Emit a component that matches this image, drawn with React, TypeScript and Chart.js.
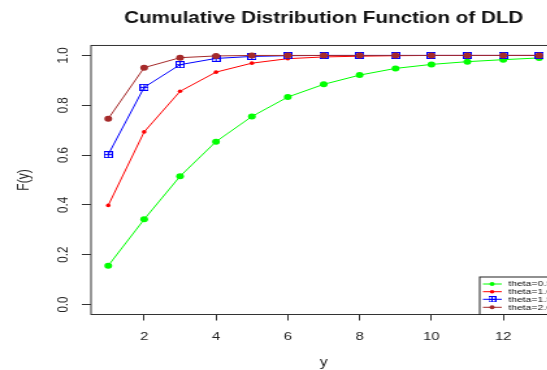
import React, { useEffect, useRef } from "react";
import { Chart, registerables } from "chart.js";

Chart.register(...registerables);

// ---- data ----
const yValues = [1, 2, 3, 4, 5, 6, 7, 8, 9, 10, 11, 12, 13];
const theta05 = [0.156, 0.342, 0.515, 0.654, 0.755, 0.833, 0.884, 0.921, 0.948, 0.964, 0.975, 0.983, 0.99];
const theta10 = [0.398, 0.693, 0.856, 0.933, 0.969, 0.987, 0.994, 0.997, 0.999, 1.0, 1.0, 1.0, 1.0];
const theta15 = [0.602, 0.872, 0.963, 0.988, 0.996, 0.999, 1.0, 1.0, 1.0, 1.0, 1.0, 1.0, 1.0];
const theta20 = [0.746, 0.951, 0.991, 0.998, 1.0, 1.0, 1.0, 1.0, 1.0, 1.0, 1.0, 1.0, 1.0];
const seriesLabels = ["theta=0.5", "theta=1.0", "theta=1.5", "theta=2.0"];
const seriesColors = ["#00ff00", "#ff0000", "#0000ff", "#a52a2a"];
const xTicks = [2, 4, 6, 8, 10, 12];
const yTicks = [0, 0.2, 0.4, 0.6, 0.8, 1.0];
const titleText = "Cumulative Distribution Function of DLD";
const xTitle = "y";
const yTitle = "F(y)";

const FONT = "'Liberation Sans', Arial, Helvetica, sans-serif";
const STRETCH = 1.3;

function makeBoxPlus(color: string): HTMLCanvasElement {
  const c = document.createElement("canvas");
  c.width = 7;
  c.height = 7;
  const ctx = c.getContext("2d")!;
  ctx.strokeStyle = color;
  ctx.lineWidth = 1;
  ctx.strokeRect(0.5, 0.5, 6, 6);
  ctx.beginPath();
  ctx.moveTo(3.5, 0.5);
  ctx.lineTo(3.5, 6.5);
  ctx.moveTo(0.5, 3.5);
  ctx.lineTo(6.5, 3.5);
  ctx.stroke();
  return c;
}

const boxPlugin = {
  id: "rBox",
  afterDraw(chart: any) {
    const { ctx, chartArea } = chart;
    const { left, top, right, bottom } = chartArea;
    ctx.save();
    ctx.strokeStyle = "#333";
    ctx.lineWidth = 1;
    ctx.strokeRect(left, top, right - left, bottom - top);

    // legend (bottom right, inside plot)
    const ds = chart.data.datasets;
    const bw = 59;
    const bh = 37.5;
    const bx = right - bw;
    const by = bottom - bh;
    ctx.fillStyle = "#fff";
    ctx.fillRect(bx, by, bw, bh);
    ctx.strokeStyle = "#222";
    ctx.strokeRect(bx, by, bw, bh);
    const rows = [7, 14.7, 22.3, 30.3];
    ctx.font = `8px ${FONT}`;
    ctx.textBaseline = "middle";
    ctx.textAlign = "left";
    ds.forEach((d: any, i: number) => {
      const yy = by + rows[i];
      ctx.strokeStyle = d.borderColor;
      ctx.lineWidth = 1;
      ctx.beginPath();
      ctx.moveTo(bx + 2.5, yy);
      ctx.lineTo(bx + 17, yy);
      ctx.stroke();
      const px = bx + 9.5;
      if (d.pointStyle instanceof HTMLCanvasElement) {
        const img = d.pointStyle as HTMLCanvasElement;
        ctx.drawImage(img, px - 3, yy - 3, 6, 6);
      } else {
        ctx.fillStyle = d.pointBackgroundColor;
        ctx.beginPath();
        ctx.arc(px, yy, Math.min(d.pointRadius, 2), 0, Math.PI * 2);
        ctx.fill();
      }
      ctx.fillStyle = "#111";
      ctx.fillText(d.label, bx + 22, yy);
    });
    ctx.restore();
  },
};

export default function App() {
  const ref = useRef<HTMLCanvasElement | null>(null);

  useEffect(() => {
    if (!ref.current) return;
    const allSeries = [theta05, theta10, theta15, theta20];
    const radii = [3, 1.8, 0, 3];
    const orders = [4, 3, 2, 1];
    const datasets = allSeries.map((vals, i) => {
      const color = seriesColors[i];
      const isBox = i === 2;
      return {
        label: seriesLabels[i],
        data: yValues.map((x, k) => ({ x, y: vals[k] })),
        borderColor: color,
        backgroundColor: color,
        pointBackgroundColor: color,
        pointBorderColor: color,
        borderWidth: 1,
        pointRadius: isBox ? 3.5 : radii[i],
        pointBorderWidth: 0,
        pointStyle: isBox ? makeBoxPlus(color) : "circle",
        tension: 0,
        fill: false,
        order: orders[i],
        yAxisID: "y",
      };
    });

    const chart = new Chart(ref.current, {
      type: "line",
      data: { datasets } as any,
      options: {
        animation: false,
        responsive: false,
        devicePixelRatio: 1,
        layout: { padding: 0 },
        plugins: {
          legend: { display: false },
          tooltip: { enabled: false },
          title: {
            display: true,
            text: titleText,
            color: "#111",
            font: { family: FONT, size: 15.9, weight: "bold", lineHeight: 1.2 },
            padding: { top: 8.6, bottom: 17.8 },
          },
        },
        scales: {
          x: {
            type: "linear",
            min: 0.52,
            max: 13.48,
            afterBuildTicks: (s: any) => {
              s.ticks = xTicks.map((v) => ({ value: v }));
            },
            afterFit: (s: any) => {
              s.height = 55.5;
            },
            border: { display: false },
            grid: {
              display: true,
              drawOnChartArea: false,
              drawTicks: true,
              tickLength: 6,
              color: "#333",
            },
            ticks: {
              color: "#222",
              font: { family: FONT, size: 11.5, lineHeight: 1.2 },
              padding: 9.3,
              maxRotation: 0,
              minRotation: 0,
              callback: (v: any) => String(v),
            },
            title: {
              display: true,
              text: xTitle,
              color: "#222",
              font: { family: FONT, size: 12, lineHeight: 1.2 },
              padding: { top: 0, bottom: 0 },
            },
          },
          y: {
            type: "linear",
            position: "left",
            min: -0.04,
            max: 1.04,
            afterBuildTicks: (s: any) => {
              s.ticks = yTicks.map((v) => ({ value: v }));
            },
            afterFit: (s: any) => {
              s.width = 70;
            },
            border: { display: false },
            grid: {
              display: true,
              drawOnChartArea: false,
              drawTicks: true,
              tickLength: 7,
              color: "#333",
            },
            ticks: {
              color: "#222",
              font: { family: FONT, size: 11.5, lineHeight: 1.2 },
              padding: 6.5,
              minRotation: 90,
              maxRotation: 90,
              crossAlign: "center",
              callback: (v: any) => Number(v).toFixed(1),
            },
            title: {
              display: true,
              text: yTitle,
              color: "#222",
              font: { family: FONT, size: 12, lineHeight: 1.2 },
              padding: { top: 11.3, bottom: 0 },
            },
          },
          // empty right margin (R's right plot margin) so the title centres over the plot
          yRight: {
            type: "linear",
            position: "right",
            min: -0.04,
            max: 1.04,
            display: true,
            afterFit: (s: any) => {
              s.width = 70;
            },
            border: { display: false },
            grid: { display: false, drawTicks: false },
            ticks: { display: false },
            title: { display: false },
          },
        },
      } as any,
      plugins: [boxPlugin],
    });
    return () => chart.destroy();
  }, []);

  return (
    <div
      style={{
        position: "fixed",
        left: 0,
        top: 0,
        width: 547,
        height: 370,
        overflow: "hidden",
        background: "#fff",
      }}
    >
      <canvas
        ref={ref}
        width={498}
        height={370}
        style={{
          display: "block",
          transform: `scaleX(${STRETCH})`,
          transformOrigin: "0 0",
        }}
      />
    </div>
  );
}
